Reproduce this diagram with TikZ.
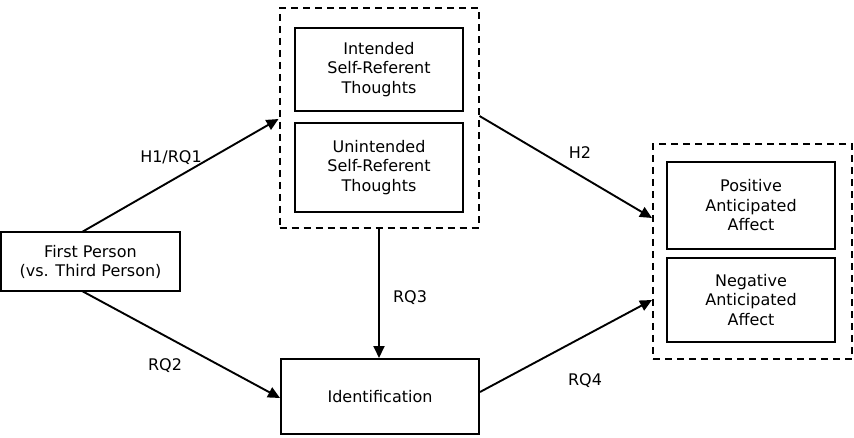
\documentclass[tikz,border=0pt]{standalone}
\usepackage{fontspec}
\setmainfont{DejaVu Sans}
\usetikzlibrary{arrows.meta}
\begin{document}
\begin{tikzpicture}[x=1pt,y=-1pt,
  box/.style={draw,line width=2pt,inner sep=0pt,align=center,font=\fontsize{16}{19.5}\selectfont},
  group/.style={draw,line width=2pt,dash pattern=on 7pt off 5pt},
  arr/.style={line width=1.9pt,-{Triangle[length=12pt,width=11pt]}},
  lbl/.style={font=\fontsize{16}{19}\selectfont}]
\useasboundingbox (0,0) rectangle (854,438);
\node[box,minimum width=179pt,minimum height=59pt] (fp) at (90.5,262) {First Person\\(vs. Third Person)};
\node[box,minimum width=168pt,minimum height=83pt] (int) at (379,69.5) {Intended\\Self-Referent\\Thoughts};
\node[box,minimum width=168pt,minimum height=89pt] (unint) at (379,167.5) {Unintended\\Self-Referent\\Thoughts};
\node[group,minimum width=199pt,minimum height=220pt] (g1) at (379,118) {};
\node[box,minimum width=168pt,minimum height=87pt] (pos) at (751,205.5) {Positive\\Anticipated\\Affect};
\node[box,minimum width=168pt,minimum height=84pt] (neg) at (751,300) {Negative\\Anticipated\\Affect};
\node[group,minimum width=199pt,minimum height=215pt] (g2) at (752.5,251.5) {};
\node[box,minimum width=198pt,minimum height=75pt] (id) at (380,396.5) {Identification};
\coordinate (fpT) at (82,232);
\coordinate (fpB) at (82,291);
\draw[arr] (fpT) -- (g1.west |- 0,119);
\draw[arr] (fpB) -- (id.west |- 0,398);
\draw[arr] (g1.south) -- (id.north -| g1.south);
\draw[arr] (g1.east |- 0,116) -- (g2.west |- 0,218);
\draw[arr] (id.east |- 0,392) -- (g2.west |- 0,300);
\node[lbl] (l1) at (171,158) {H1/RQ1};
\node[lbl] (l2) at (165,366) {RQ2};
\node[lbl] (l3) at (410,298) {RQ3};
\node[lbl] (l4) at (580,153) {H2};
\node[lbl] (l5) at (585,381) {RQ4};
\end{tikzpicture}
\end{document}
